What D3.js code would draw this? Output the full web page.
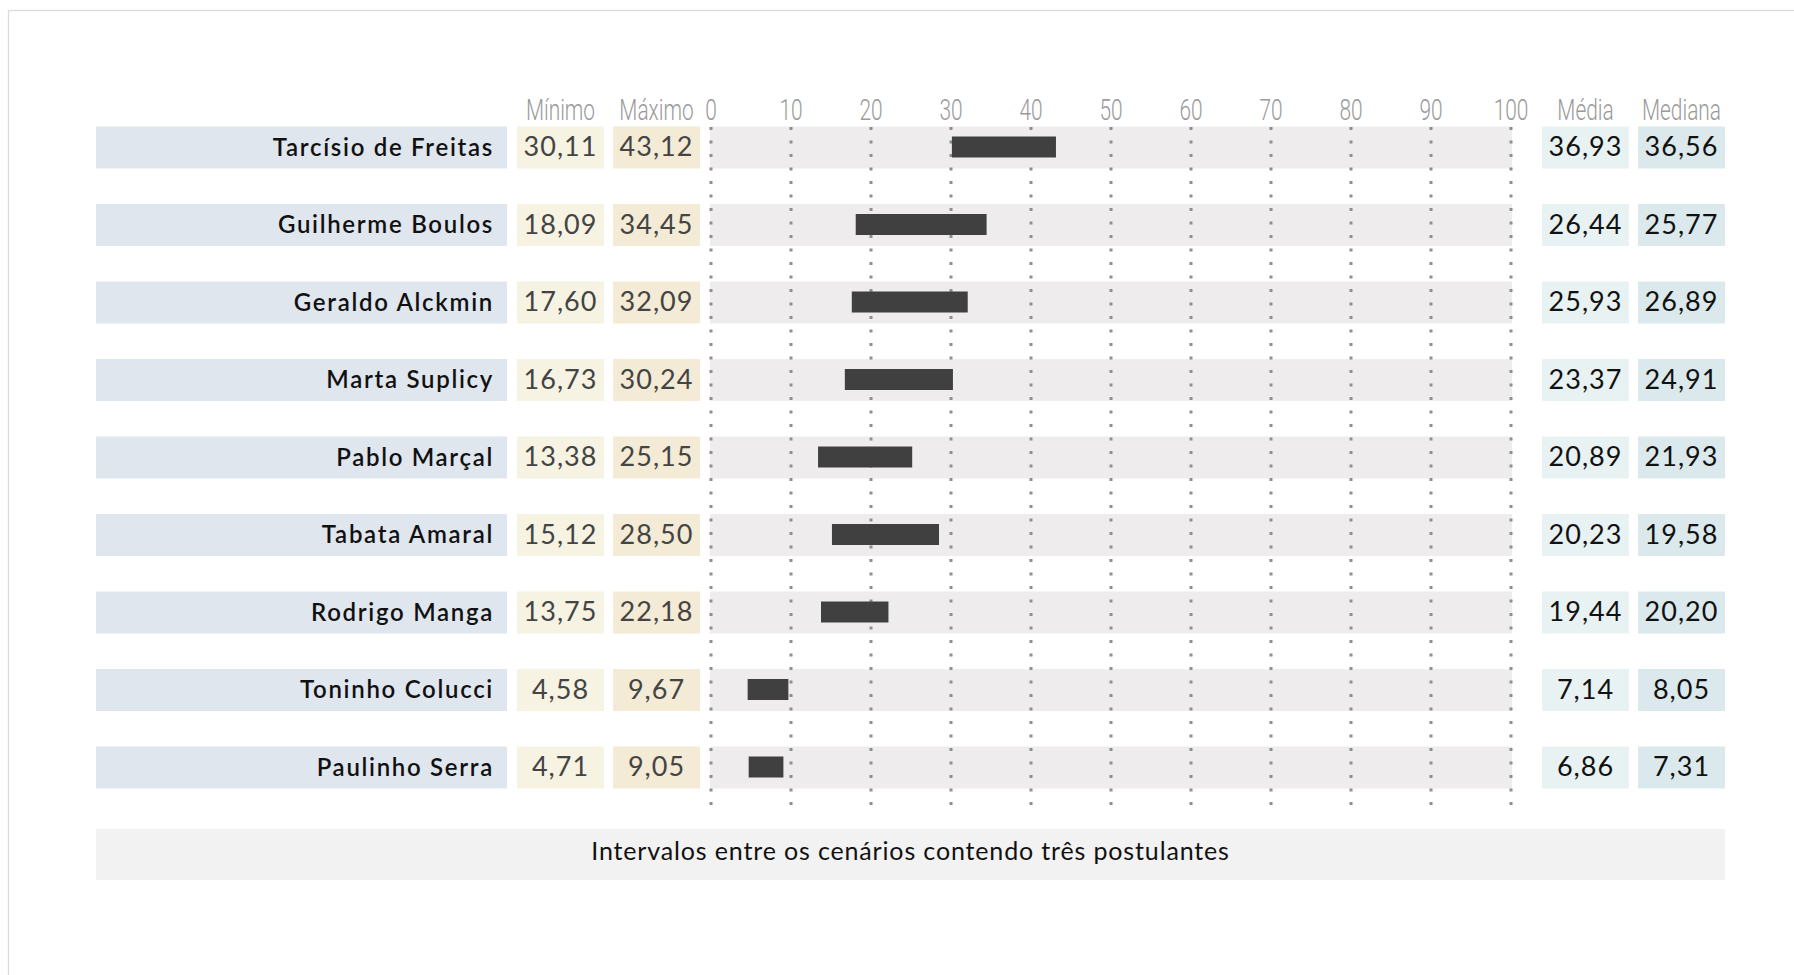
<!DOCTYPE html>
<html>
<head>
<meta charset="utf-8">
<script src="https://cdn.jsdelivr.net/npm/d3@7"></script>
<style>
  body { margin: 0; background: #fff; }
</style>
</head>
<body>
<div id="chart"></div>
<script>
const candidates = ['Tarcísio de Freitas', 'Guilherme Boulos', 'Geraldo Alckmin', 'Marta Suplicy',
  'Pablo Marçal', 'Tabata Amaral', 'Rodrigo Manga', 'Toninho Colucci', 'Paulinho Serra'];
const minimo = [30.11, 18.09, 17.60, 16.73, 13.38, 15.12, 13.75, 4.58, 4.71];
const maximo = [43.12, 34.45, 32.09, 30.24, 25.15, 28.50, 22.18, 9.67, 9.05];
const media = [36.93, 26.44, 25.93, 23.37, 20.89, 20.23, 19.44, 7.14, 6.86];
const mediana = [36.56, 25.77, 26.89, 24.91, 21.93, 19.58, 20.20, 8.05, 7.31];
const tickValues = [0, 10, 20, 30, 40, 50, 60, 70, 80, 90, 100];
const footerText = 'Intervalos entre os cenários contendo três postulantes';

const width = 1794, height = 975;
const nameFont = 'Lato, "Noto Sans", sans-serif';
const thinFont = 'Roboto, "Noto Sans", sans-serif';

const rows = candidates.map((name, i) => ({
  name, min: minimo[i], max: maximo[i], media: media[i], mediana: mediana[i]
}));

const br = d3.formatLocale({ decimal: ',', thousands: '.', grouping: [3], currency: ['R$', ''] });
const fmt = br.format('.2f');

const svg = d3.select('#chart')
  .append('svg')
  .attr('width', width)
  .attr('height', height)

// outer frame (runs off the page to the right and bottom)
svg.append('rect')
  .attr('x', 8.5).attr('y', 10.5)
  .attr('width', 2000).attr('height', 2000)
  .attr('fill', 'none')
  .attr('stroke', '#dcdcdc')
  .attr('stroke-width', 1.3)

const y = d3.scaleBand()
  .domain(candidates)
  .range([126.5, 126.5 + 8 * 77.5 + 42])
  .paddingInner(1 - 42 / 77.5)
  .paddingOuter(0)

const x = d3.scaleLinear().domain([0, 100]).range([711, 1511])

// table columns
const cols = [
  { key: 'min', x0: 517, w: 87, fill: '#f6f3e3', color: '#444', head: 'Mínimo' },
  { key: 'max', x0: 613, w: 87, fill: '#f3ebd5', color: '#444', head: 'Máximo' },
  { key: 'media', x0: 1542, w: 87, fill: '#e9f2f3', color: '#111', head: 'Média' },
  { key: 'mediana', x0: 1638, w: 87, fill: '#dbe9ec', color: '#111', head: 'Mediana' }
];

const g = svg.append('g')

// name cells
g.selectAll('.name-bg')
  .data(rows)
  .enter()
  .append('rect')
  .attr('x', 96).attr('width', 411)
  .attr('y', d => y(d.name))
  .attr('height', y.bandwidth())
  .attr('fill', '#dfe6ee')

g.selectAll('.name')
  .data(rows)
  .enter()
  .append('text')
  .attr('x', 494)
  .attr('y', d => y(d.name) + 29)
  .attr('text-anchor', 'end')
  .attr('font-family', nameFont)
  .attr('font-size', 24)
  .attr('font-weight', 600)
  .attr('letter-spacing', 1.7)
  .attr('fill', '#111')
  .text(d => d.name)

// value cells
cols.forEach(c => {
  g.selectAll('.bg-' + c.key)
    .data(rows)
    .enter()
    .append('rect')
    .attr('x', c.x0).attr('width', c.w)
    .attr('y', d => y(d.name))
    .attr('height', y.bandwidth())
    .attr('fill', c.fill)

  g.selectAll('.val-' + c.key)
    .data(rows)
    .enter()
    .append('text')
    .attr('x', c.x0 + c.w / 2)
    .attr('y', d => y(d.name) + 29.5)
    .attr('text-anchor', 'middle')
    .attr('font-family', nameFont)
    .attr('font-size', 27)
    .attr('letter-spacing', 1)
    .attr('fill', c.color)
    .text(d => fmt(d[c.key]))

  g.append('text')
    .attr('transform', `translate(${c.x0 + c.w / 2},120) scale(0.72,1)`)
    .attr('text-anchor', 'middle')
    .attr('font-family', thinFont)
    .attr('font-weight', 300)
    .attr('font-size', 29)
    .attr('fill', '#9a9a9a')
    .text(c.head)
});

// range chart background
g.selectAll('.track')
  .data(rows)
  .enter()
  .append('rect')
  .attr('x', x(0) - 1)
  .attr('width', x(100) - x(0) + 2)
  .attr('y', d => y(d.name))
  .attr('height', y.bandwidth())
  .attr('fill', '#eeeced')

// dotted grid
g.selectAll('.grid')
  .data(tickValues)
  .enter()
  .append('line')
  .attr('x1', d => x(d)).attr('x2', d => x(d))
  .attr('y1', 127).attr('y2', 810)
  .attr('stroke', '#8f8f8f')
  .attr('stroke-width', 3)
  .attr('stroke-dasharray', '3,10.5')

// tick labels
g.selectAll('.tick-label')
  .data(tickValues)
  .enter()
  .append('text')
  .attr('transform', d => `translate(${x(d)},120) scale(0.72,1)`)
  .attr('text-anchor', 'middle')
  .attr('font-family', thinFont)
  .attr('font-weight', 300)
  .attr('font-size', 29)
  .attr('fill', '#9a9a9a')
  .text(d => d)

// min-max bars
g.selectAll('.bar')
  .data(rows)
  .enter()
  .append('rect')
  .attr('x', d => x(d.min))
  .attr('width', d => x(d.max) - x(d.min))
  .attr('y', d => y(d.name) + 10)
  .attr('height', 21)
  .attr('fill', '#404040')

// footer
svg.append('rect')
  .attr('x', 96).attr('y', 829)
  .attr('width', 1629).attr('height', 51)
  .attr('fill', '#f2f2f2')

svg.append('text')
  .attr('x', 96 + 1629 / 2)
  .attr('y', 860)
  .attr('text-anchor', 'middle')
  .attr('font-family', nameFont)
  .attr('font-size', 25)
  .attr('letter-spacing', 0.85)
  .attr('fill', '#111')
  .text(footerText)
</script>
</body>
</html>
